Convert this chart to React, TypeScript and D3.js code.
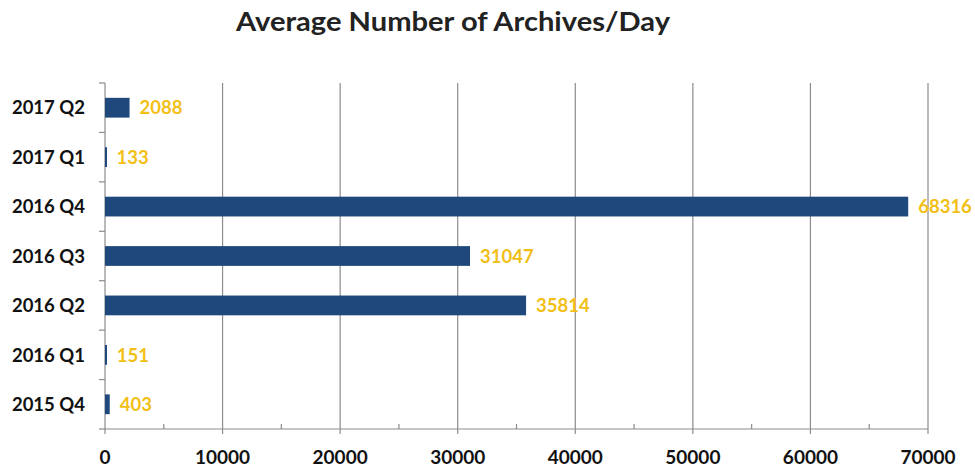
import React from "react";
import * as d3 from "d3";

const categories = ["2017 Q2", "2017 Q1", "2016 Q4", "2016 Q3", "2016 Q2", "2016 Q1", "2015 Q4"];
const values = [2088, 133, 68316, 31047, 35814, 151, 403];
const xTicks = [0, 10000, 20000, 30000, 40000, 50000, 60000, 70000];
const minorTicks = [5000, 15000, 25000, 35000, 45000, 55000, 65000];
const title = "Average Number of Archives/Day";

const W = 975;
const H = 468;
const left = 105;
const right = 928;
const top = 83;
const bottom = 429;
const FONT = "Lato, 'Open Sans', sans-serif";
const BAR = "#1F497D";
const GOLD = "#F2BF17";
const GRID = "#8C8C8C";

export default function App() {
  const x = d3.scaleLinear().domain([0, 70000]).range([left, right]);
  const y = d3.scaleBand<string>().domain(categories).range([top, bottom]).paddingInner(0.6).paddingOuter(0.3);
  const bandStep = (bottom - top) / categories.length;
  const boundaries = d3.range(categories.length + 1).map((i) => top + i * bandStep);

  return (
    <svg width={W} height={H} style={{ position: "absolute", left: 0, top: 0, background: "#fff" }}>
      <text
        x={0}
        y={0}
        transform="translate(453,31) scale(1.12,1)"
        textAnchor="middle"
        fontFamily={FONT}
        fontWeight={700}
        fontSize={26}
        fill="#222"
      >
        {title}
      </text>
      {xTicks.map((t) => (
        <line key={"g" + t} x1={x(t)} x2={x(t)} y1={top} y2={bottom + 5} stroke={GRID} strokeWidth={1.2} />
      ))}
      {minorTicks.map((t) => (
        <line key={"m" + t} x1={x(t)} x2={x(t)} y1={bottom - 5} y2={bottom} stroke={GRID} strokeWidth={1.2} />
      ))}
      <line x1={left} x2={right} y1={bottom} y2={bottom} stroke={GRID} strokeWidth={1.2} />
      {boundaries.map((b, i) => (
        <line key={"yt" + i} x1={left - 6} x2={left} y1={b} y2={b} stroke={GRID} strokeWidth={1.2} />
      ))}
      {categories.map((c, i) => (
        <g key={c}>
          <rect x={x(0)} y={y(c)} width={Math.max(x(values[i]) - x(0), 2)} height={y.bandwidth()} fill={BAR} />
          <text
            x={x(values[i]) + 10}
            y={(y(c) as number) + y.bandwidth() / 2}
            dy="0.36em"
            fontFamily={FONT}
            fontWeight={700}
            fontSize={18.5}
            fill={GOLD}
          >
            {values[i]}
          </text>
          <text
            x={85}
            y={(y(c) as number) + y.bandwidth() / 2}
            dy="0.36em"
            textAnchor="end"
            fontFamily={FONT}
            fontWeight={700}
            fontSize={18.5}
            fill="#111"
          >
            {c}
          </text>
        </g>
      ))}
      {xTicks.map((t) => (
        <text key={"l" + t} x={x(t)} y={457} dy="0.36em" textAnchor="middle" fontFamily={FONT} fontWeight={700} fontSize={19} fill="#111">
          {t}
        </text>
      ))}
    </svg>
  );
}
